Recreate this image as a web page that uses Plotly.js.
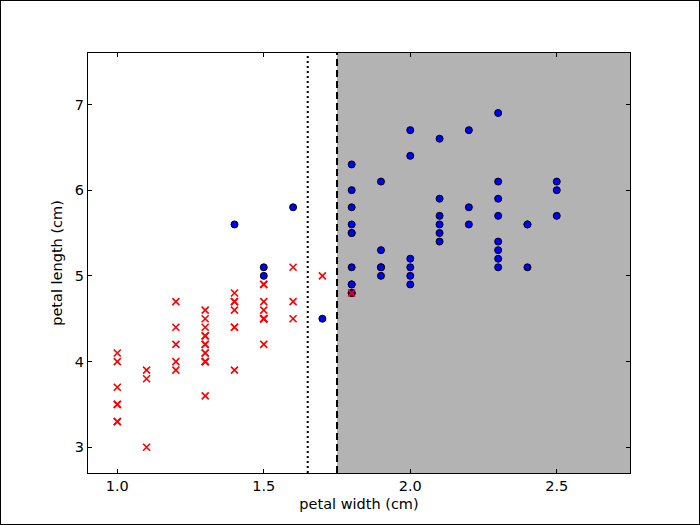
<!DOCTYPE html>
<html>
<head>
<meta charset="utf-8">
<script src="https://cdn.plot.ly/plotly-3.0.1.min.js"></script>
<style>
html,body{margin:0;padding:0;background:#fff;}
#wrap{width:700px;height:525px;box-sizing:border-box;border:1px solid #000;}
#chart{width:698px;height:523px;}
</style>
</head>
<body>
<div id="wrap"><div id="chart"></div></div>
<script>
// Versicolor: petal width / petal length
const versicolorWidth = [1.4,1.5,1.5,1.3,1.5,1.3,1.6,1.0,1.3,1.4,1.0,1.5,1.0,1.4,1.3,1.4,1.5,1.0,1.5,1.1,1.8,1.3,1.5,1.2,1.3,1.4,1.4,1.7,1.5,1.0,1.1,1.0,1.2,1.6,1.5,1.6,1.5,1.3,1.3,1.3,1.2,1.4,1.2,1.0,1.3,1.2,1.3,1.3,1.1,1.3];
const versicolorLength = [4.7,4.5,4.9,4.0,4.6,4.5,4.7,3.3,4.6,3.9,3.5,4.2,4.0,4.7,3.6,4.4,4.5,4.1,4.5,3.9,4.8,4.0,4.9,4.7,4.3,4.4,4.8,5.0,4.5,3.5,3.8,3.7,3.9,5.1,4.5,4.5,4.7,4.4,4.1,4.0,4.4,4.6,4.0,3.3,4.2,4.2,4.2,4.3,3.0,4.1];
// Virginica: petal width / petal length
const virginicaWidth = [2.5,1.9,2.1,1.8,2.2,2.1,1.7,1.8,1.8,2.5,2.0,1.9,2.1,2.0,2.4,2.3,1.8,2.2,2.3,1.5,2.3,2.0,2.0,1.8,2.1,1.8,1.8,1.8,2.1,1.6,1.9,2.0,2.2,1.5,1.4,2.3,2.4,1.8,1.8,2.1,2.4,2.3,1.9,2.3,2.5,2.3,1.9,2.0,2.3,1.8];
const virginicaLength = [6.0,5.1,5.9,5.6,5.8,6.6,4.5,6.3,5.8,6.1,5.1,5.3,5.5,5.0,5.1,5.3,5.5,6.7,6.9,5.0,5.7,4.9,6.7,4.9,5.7,6.0,4.8,4.9,5.6,5.8,6.1,6.4,5.6,5.1,5.6,6.1,5.6,5.5,4.8,5.4,5.6,5.1,5.1,5.9,5.7,5.2,5.0,5.2,5.4,5.1];
const threshold = 1.75;
const altThreshold = 1.65;
const xRange = [0.9, 2.75];
const yRange = [2.7, 7.6];
const xTicks = [1.0, 1.5, 2.0, 2.5];
const xTickText = ["1.0", "1.5", "2.0", "2.5"];
const yTicks = [3, 4, 5, 6, 7];

const traces = [
  {
    x: virginicaWidth, y: virginicaLength, type: 'scatter', mode: 'markers',
    marker: {symbol: 'circle', size: 7, color: '#0000ff', line: {color: '#000', width: 1}},
    hoverinfo: 'skip', showlegend: false
  },
  {
    x: versicolorWidth, y: versicolorLength, type: 'scatter', mode: 'markers',
    marker: {symbol: 'x-thin', size: 7, color: '#ff0000', line: {color: '#ff0000', width: 1.6}},
    hoverinfo: 'skip', showlegend: false
  }
];

const axisCommon = {
  showgrid: false, zeroline: false, showline: true, linecolor: '#000', linewidth: 1,
  mirror: 'ticks', ticks: 'inside', ticklen: 4, tickwidth: 1, tickcolor: '#000',
  tickfont: {family: 'DejaVu Sans', size: 14.5, color: '#000'}
};

const layout = {
  width: 698, height: 523,
  margin: {l: 87, r: 69, t: 52, b: 51},
  paper_bgcolor: '#fff', plot_bgcolor: '#fff',
  font: {family: 'DejaVu Sans', color: '#000'},
  xaxis: Object.assign({}, axisCommon, {
    range: xRange, tickvals: xTicks, ticktext: xTickText,
    title: {text: 'petal width (cm)', font: {family: 'DejaVu Sans', size: 14.5, color: '#000'}, standoff: 5}
  }),
  yaxis: Object.assign({}, axisCommon, {
    range: yRange, tickvals: yTicks,
    title: {text: 'petal length (cm)', font: {family: 'DejaVu Sans', size: 14.5, color: '#000'}, standoff: 8}
  }),
  shapes: [
    {type: 'rect', xref: 'x', yref: 'paper', x0: threshold, x1: xRange[1], y0: 0, y1: 1,
     fillcolor: '#b3b3b3', line: {width: 0}, layer: 'below'},
    {type: 'line', xref: 'x', yref: 'paper', x0: threshold, x1: threshold, y0: 0, y1: 1,
     line: {color: '#000', width: 2, dash: '7px,4px'}, layer: 'below'},
    {type: 'line', xref: 'x', yref: 'paper', x0: altThreshold, x1: altThreshold, y0: 0, y1: 1,
     line: {color: '#000', width: 2, dash: '2px,3px'}, layer: 'below'}
  ]
};

Plotly.newPlot('chart', traces, layout, {displayModeBar: false, staticPlot: true});
</script>
</body>
</html>
